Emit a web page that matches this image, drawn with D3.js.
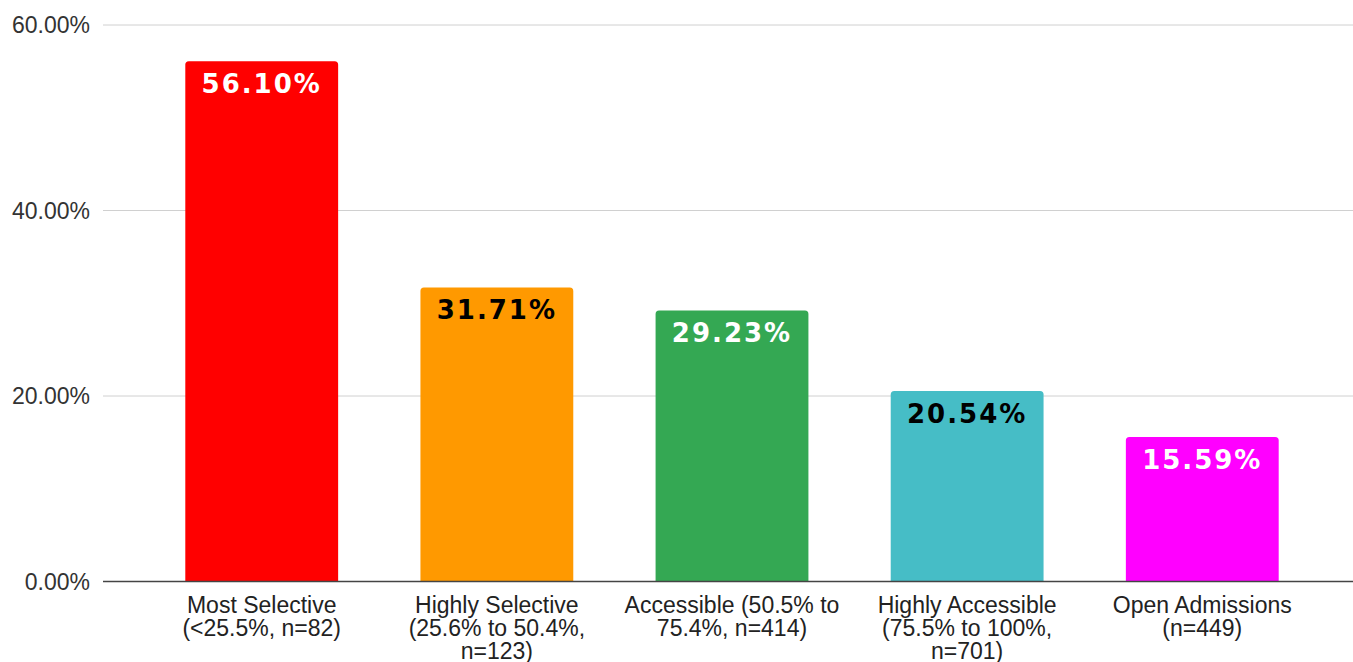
<!DOCTYPE html>
<html>
<head>
<meta charset="utf-8">
<script src="https://cdn.jsdelivr.net/npm/d3@7"></script>
<style>
  body { margin: 0; background: #fff; }
  svg { display: block; }
</style>
</head>
<body>
<div id="chart"></div>
<script>
const categories = [
    "Most Selective (<25.5%, n=82)",
    "Highly Selective (25.6% to 50.4%, n=123)",
    "Accessible (50.5% to 75.4%, n=414)",
    "Highly Accessible (75.5% to 100%, n=701)",
    "Open Admissions (n=449)"
];
const values = [0.5610, 0.3171, 0.2923, 0.2054, 0.1559];
const yTicks = [0, 0.2, 0.4, 0.6];
const barColors = ["#ff0000", "#ff9900", "#34a853", "#46bdc6", "#ff00ff"];
const labelColors = ["#ffffff", "#000000", "#ffffff", "#000000", "#ffffff"];

const width = 1353;
const height = 662;

const dataSet = categories.map((c, i) => ({ cat: c, value: values[i], color: barColors[i], labelColor: labelColors[i] }));

const svg = d3.select("#chart")
    .append("svg")
    .attr("width", width)
    .attr("height", height);

const xScale = d3.scaleBand()
    .domain(categories)
    .range([103, 1361])
    .paddingInner(0.35)
    .paddingOuter(0.35);

const yScale = d3.scaleLinear()
    .domain([0, 0.6])
    .range([581.5, 25]);

// grid lines
svg.append("g")
    .selectAll("line")
    .data(yTicks.filter(t => t > 0))
    .enter()
    .append("line")
    .attr("x1", 103)
    .attr("x2", width)
    .attr("y1", d => yScale(d))
    .attr("y2", d => yScale(d))
    .attr("stroke", "#d0d0d0")
    .attr("stroke-width", 1);

// y axis labels
svg.append("g")
    .selectAll("text")
    .data(yTicks)
    .enter()
    .append("text")
    .attr("x", 90)
    .attr("y", d => yScale(d))
    .attr("dy", "0.35em")
    .attr("text-anchor", "end")
    .style("font-family", "'Liberation Sans', Arial, sans-serif")
    .style("font-size", "23px")
    .attr("fill", "#333")
    .text(d => d3.format(".2%")(d));

// bars with rounded top corners
const r = 3.5;
const barPath = d => {
    const x0 = xScale(d.cat), x1 = x0 + xScale.bandwidth();
    const y0 = yScale(d.value), yb = yScale(0);
    return `M${x0},${yb} L${x0},${y0 + r} Q${x0},${y0} ${x0 + r},${y0} L${x1 - r},${y0} Q${x1},${y0} ${x1},${y0 + r} L${x1},${yb} Z`;
};

svg.append("g")
    .selectAll("path")
    .data(dataSet)
    .enter()
    .append("path")
    .attr("d", barPath)
    .attr("fill", d => d.color);

// value labels
svg.append("g")
    .selectAll("text")
    .data(dataSet)
    .enter()
    .append("text")
    .attr("x", d => xScale(d.cat) + xScale.bandwidth() / 2)
    .attr("y", d => yScale(d.value) + 32)
    .attr("text-anchor", "middle")
    .style("font-family", "'DejaVu Sans', Verdana, sans-serif")
    .style("font-weight", "bold")
    .style("font-size", "26px")
    .style("letter-spacing", "2px")
    .attr("fill", d => d.labelColor)
    .text(d => d3.format(".2%")(d.value));

// baseline
svg.append("line")
    .attr("x1", 103)
    .attr("x2", width)
    .attr("y1", yScale(0))
    .attr("y2", yScale(0))
    .attr("stroke", "#444")
    .attr("stroke-width", 1.4);

// category labels, wrapped to the band
const catLabels = svg.append("g")
    .selectAll("text")
    .data(categories)
    .enter()
    .append("text")
    .attr("text-anchor", "middle")
    .style("font-family", "'Liberation Sans', Arial, sans-serif")
    .style("font-size", "23px")
    .attr("fill", "#222");

catLabels.each(function (c) {
    const text = d3.select(this);
    const cx = xScale(c) + xScale.bandwidth() / 2;
    const words = c.split(" ");
    const maxW = 228;
    let lines = [];
    let line = [];
    let probe = text.append("tspan");
    words.forEach(w => {
        line.push(w);
        probe.text(line.join(" "));
        if (probe.node().getComputedTextLength() > maxW && line.length > 1) {
            line.pop();
            lines.push(line.join(" "));
            line = [w];
        }
    });
    lines.push(line.join(" "));
    probe.remove();
    lines.forEach((l, i) => {
        text.append("tspan")
            .attr("x", cx)
            .attr("y", yScale(0) + 31 + i * 23)
            .text(l);
    });
});
</script>
</body>
</html>
